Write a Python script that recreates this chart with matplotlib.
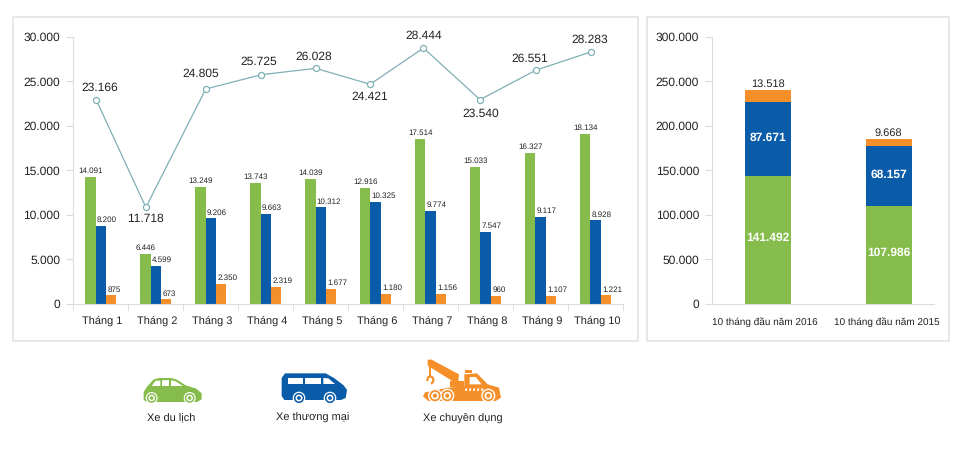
import matplotlib
matplotlib.use("Agg")
import matplotlib.pyplot as plt
import numpy as np
from matplotlib.patches import Arc, Circle, Polygon, Rectangle

plt.rcParams['font.family'] = ['Liberation Sans', 'DejaVu Sans']
plt.rcParams['text.hinting'] = 'no_hinting'
plt.rcParams['text.hinting_factor'] = 1

months = ["Tháng 1", "Tháng 2", "Tháng 3", "Tháng 4", "Tháng 5",
          "Tháng 6", "Tháng 7", "Tháng 8", "Tháng 9", "Tháng 10"]

# printed numbers
total_labels = [23166, 11718, 24805, 25725, 26028, 24421, 28444, 23540, 26551, 28283]
green_labels = [14091, 6446, 13249, 13743, 14039, 12916, 17514, 15033, 16327, 18134]
blue_labels = [8200, 4599, 9206, 9663, 10312, 10325, 9774, 7547, 9117, 8928]
orange_labels = [875, 673, 2350, 2319, 1677, 1180, 1156, 960, 1107, 1221]

# heights as drawn, they do not follow the printed numbers exactly
total_drawn = [22860, 10850, 24130, 25735, 26450, 24660, 28730, 22930, 26230, 28280]
total_shift = [-0.08, -0.18, -0.09, -0.08, -0.09, -0.1, -0.13, -0.1, -0.09, -0.09]
green_drawn = [14220, 5610, 13165, 13615, 13995, 13050, 18520, 15375, 16915, 19045]
blue_drawn = [8755, 4265, 9620, 10100, 10855, 11450, 10470, 8115, 9800, 9395]
orange_drawn = [975, 525, 2245, 1910, 1715, 1155, 1155, 900, 900, 975]

periods = ["10 tháng đầu năm 2016", "10 tháng đầu năm 2015"]
green_sum_labels = [141492, 107986]
blue_sum_labels = [87671, 68157]
orange_sum_labels = [13518, 9668]
green_sum_drawn = [143700, 110000]
blue_sum_drawn = [83300, 67300]
orange_sum_drawn = [13200, 7500]

legend_names = ["Xe du lịch", "Xe thương mại", "Xe chuyên dụng"]

GREEN = "#85bc4b"
BLUE = "#0a5ca8"
ORANGE = "#f58f29"
TEAL = "#7fb0b5"
GREY = "#dcdcdc"
INK = "#222222"

W, H = 960, 449


def dotted(v):
    return f"{v:,}".replace(",", ".")


def ax_at(x0, y0, x1, y1):
    return fig.add_axes([x0 / W, 1 - y1 / H, (x1 - x0) / W, (y1 - y0) / H])


def style_axis(ax):
    ax.spines[['top', 'right']].set_visible(False)
    ax.spines[['left', 'bottom']].set_color(GREY)
    ax.patch.set_alpha(0)
    ax.tick_params(axis='y', length=5, color=GREY, pad=4.5, labelsize=8.3, labelcolor=INK)


fig = plt.figure(figsize=(W / 100, H / 100), dpi=100)

# overlay in pixel coordinates for panel frames and icons
over = fig.add_axes([0, 0, 1, 1], zorder=0)
over.set_xlim(0, W)
over.set_ylim(H, 0)
over.axis('off')
for x0, x1 in [(13, 638), (647, 949)]:
    over.add_patch(Rectangle((x0, 16.5), x1 - x0, 324.5, fc='white', ec='#e2e2e2', lw=1.1))

# monthly panel
ax = ax_at(73.3, 36.7, 623, 304)
ax.set_zorder(1)
style_axis(ax)
x = np.arange(len(months))
bw = 0.187
ax.bar(x - bw, green_drawn, bw, color=GREEN)
ax.bar(x, blue_drawn, bw, color=BLUE)
ax.bar(x + bw, orange_drawn, bw, color=ORANGE)
ax.plot(x + np.array(total_shift), total_drawn, color=TEAL, lw=0.9, marker='o', ms=4.4,
        mfc='white', mec=TEAL, mew=0.9, zorder=4)
ax.set_xlim(-0.5, 9.5)
ax.set_ylim(0, 30000)
ax.set_yticks(range(0, 30001, 5000))
ax.set_yticklabels([dotted(v) for v in range(0, 30001, 5000)])
ax.set_xticks(x + 0.03)
ax.set_xticklabels(months, fontsize=7.9, color=INK)
ax.set_xticks(np.arange(-0.5, 10), minor=True)
ax.tick_params(axis='x', which='major', length=0, pad=8.5)
ax.tick_params(axis='x', which='minor', length=5, color=GREY)

total_offsets = [(3, 13), (0, -11), (-5, 15), (-3, 13), (-2, 12),
                 (0, -13), (0, 12), (1, -14), (-6, 12), (-1, 12)]
for i, v in enumerate(total_labels):
    ax.annotate(dotted(v), (x[i] + total_shift[i], total_drawn[i]), xytext=total_offsets[i],
                textcoords='offset pixels', ha='center', va='center', fontsize=8.4, color=INK)

for i in x:
    ax.annotate(dotted(green_labels[i]), (i - bw, green_drawn[i]), xytext=(0, 2.5),
                textcoords='offset pixels', ha='center', va='bottom', fontsize=5.7, color=INK)
    ax.annotate(dotted(blue_labels[i]), (i - bw / 2, blue_drawn[i]), xytext=(1, 2),
                textcoords='offset pixels', ha='left', va='bottom', fontsize=5.7, color=INK)
    ax.annotate(dotted(orange_labels[i]), (i + bw / 2, orange_drawn[i]), xytext=(2, 2),
                textcoords='offset pixels', ha='left', va='bottom', fontsize=5.7, color=INK)

# ten month totals
ax2 = ax_at(712.3, 36.7, 934, 304)
ax2.set_zorder(1)
style_axis(ax2)
xs = np.arange(len(periods))
g = np.array(green_sum_drawn)
b = np.array(blue_sum_drawn)
o = np.array(orange_sum_drawn)
ax2.bar(xs, g, 0.384, color=GREEN)
ax2.bar(xs, b, 0.384, bottom=g, color=BLUE)
ax2.bar(xs, o, 0.384, bottom=g + b, color=ORANGE)
ax2.set_xlim(-0.461, 1.375)
ax2.set_ylim(0, 300000)
ax2.set_yticks(range(0, 300001, 50000))
ax2.set_yticklabels([dotted(v) for v in range(0, 300001, 50000)])
ax2.set_xticks(xs - 0.03 * np.array([1, 0.6]))
ax2.set_xticklabels(periods, fontsize=6.9, color=INK)
ax2.tick_params(axis='x', length=0, pad=9.5)
for i in xs:
    ax2.text(i, g[i] * 0.5 + 3000, dotted(green_sum_labels[i]), ha='center', va='center',
             color='white', fontsize=8.3, fontweight='bold')
    ax2.text(i, g[i] + b[i] * 0.5 + 1000, dotted(blue_sum_labels[i]), ha='center', va='center',
             color='white', fontsize=8.3, fontweight='bold')
    ax2.annotate(dotted(orange_sum_labels[i]), (i, g[i] + b[i] + o[i]), xytext=(0, 1),
                 textcoords='offset pixels', ha='center', va='bottom', fontsize=8.2, color=INK)


# icons, outlines traced in pixels from a 3x crop
def shape(pts, org, color, z=3):
    over.add_patch(Polygon([(org[0] + a / 3, org[1] + c / 3) for a, c in pts],
                           closed=True, fc=color, ec='none', zorder=z))


def wheel(cx, cy, r, org, color):
    c = (org[0] + cx / 3, org[1] + cy / 3)
    over.add_patch(Circle(c, r / 3, fc='white', ec='none', zorder=4))
    over.add_patch(Circle(c, r * 0.8 / 3, fc=color, ec='none', zorder=5))
    over.add_patch(Circle(c, r * 0.55 / 3, fc='white', ec='none', zorder=6))
    over.add_patch(Circle(c, r * 0.3 / 3, fc=color, ec='none', zorder=7))


car = (135, 370)
shape([(26, 90), (26, 66), (36, 50), (56, 28), (72, 24), (108, 24), (124, 28), (152, 46), (184, 56),
       (200, 70), (200, 88), (186, 96), (36, 96)], car, GREEN)
shape([(50, 48), (62, 32), (76, 32), (76, 48)], car, 'white', 4)
shape([(81, 31), (102, 30), (102, 48), (81, 48)], car, 'white', 4)
shape([(108, 31), (122, 34), (143, 48), (108, 48)], car, 'white', 4)
wheel(50, 84, 18, car, GREEN)
wheel(164, 84, 18, car, GREEN)

van = (275, 368)
shape([(20, 30), (30, 16), (152, 16), (177, 30), (206, 52), (216, 66), (212, 90), (198, 96),
       (28, 96), (20, 84)], van, BLUE)
for win in ([(38, 30), (83, 30), (83, 48), (38, 48)],
            [(90, 30), (138, 30), (138, 48), (90, 48)],
            [(145, 30), (160, 31), (180, 48), (145, 48)]):
    shape(win, van, 'white', 4)
wheel(72, 90, 19, van, BLUE)
wheel(165, 90, 19, van, BLUE)

truck = (415, 355)
shape([(38, 14), (50, 14), (132, 58), (130, 78), (112, 78), (38, 32)], truck, ORANGE)
shape([(43, 28), (48, 28), (48, 62), (43, 62)], truck, ORANGE)
over.add_patch(Arc((415 + 46 / 3, 355 + 75 / 3), 6, 7, theta1=-200, theta2=80,
                   color=ORANGE, lw=1.6, zorder=3))
shape([(30, 112), (100, 98), (148, 94), (148, 58), (186, 55), (218, 88), (252, 98), (258, 128),
       (242, 138), (40, 138), (24, 124)], truck, ORANGE)
shape([(150, 44), (172, 44), (172, 55), (150, 55)], truck, ORANGE)
shape([(106, 78), (148, 78), (148, 96), (106, 96)], truck, ORANGE)
shape([(164, 66), (182, 66), (200, 88), (164, 88)], truck, 'white', 4)
for sx in range(150, 205, 12):
    shape([(sx + 2, 100), (sx + 7, 100), (sx + 5, 108), (sx, 108)], truck, 'white', 4)
wheel(60, 122, 21, truck, ORANGE)
wheel(97, 122, 21, truck, ORANGE)
wheel(220, 122, 21, truck, ORANGE)

for name, cx in zip(legend_names, [170.7, 313, 462.7]):
    over.text(cx, 418, name, ha='center', va='center', fontsize=7.9, color=INK)

fig.savefig("out.png", dpi=100)
